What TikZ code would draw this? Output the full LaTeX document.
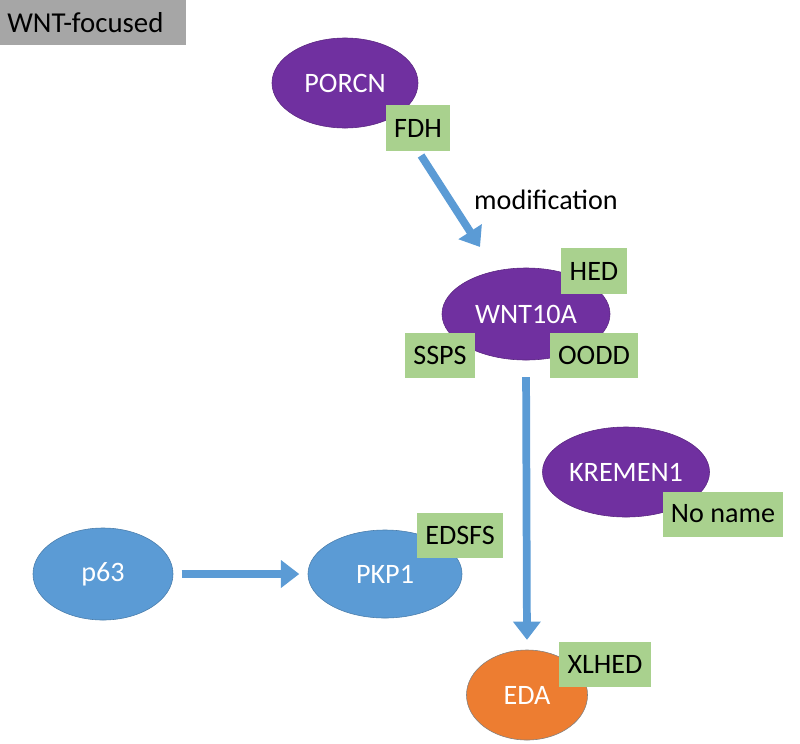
\documentclass[tikz,border=0pt]{standalone}
\usepackage{fontspec}
\setmainfont{Carlito}
\usetikzlibrary{shapes.geometric, arrows.meta}
\definecolor{genepurple}{HTML}{7030A0}
\definecolor{geneblue}{HTML}{5B9BD5}
\definecolor{geneorange}{HTML}{ED7D31}
\definecolor{diseasegreen}{HTML}{A9D18E}
\definecolor{tagrey}{HTML}{A6A6A6}

\begin{document}
\begin{tikzpicture}[x=0.025cm, y=-0.025cm,
	gene/.style={ellipse, inner sep=0pt, text=white, font=\fontsize{20}{22}\selectfont},
	wnt/.style={gene, fill=genepurple, draw=genepurple!80!black, thin},
	sig/.style={gene, fill=geneblue, draw=geneblue!80!black, thin},
	ecto/.style={gene, fill=geneorange, draw=black!50, thin},
	disease/.style={rectangle, fill=diseasegreen, inner xsep=6pt, minimum height=1.125cm, font=\fontsize{20}{22}\selectfont},
	flow/.style={draw=geneblue, line width=5.5pt, -{Triangle[width=19pt, length=13pt]}}]
	\useasboundingbox (0,0) rectangle (800,743);
	% header
	\node[fill=tagrey, anchor=north west, minimum width=4.575cm, minimum height=1.125cm, inner xsep=5pt, align=left, text width=4.3cm, font=\fontsize{20.5}{22}\selectfont] (title) at (0,0) {WNT-focused};
	% genes
	\node[wnt, minimum width=3.65cm, minimum height=2.25cm] (porcn) at (345,83) {PORCN};
	\node[wnt, minimum width=4.2cm, minimum height=2.3cm] (wnt10a) at (526,314) {WNT10A};
	\node[wnt, minimum width=4.175cm, minimum height=2.25cm] (kremen) at (626,472) {KREMEN1};
	\node[sig, minimum width=3.5cm, minimum height=2.3cm] (p63) at (103,574) {p63};
	\node[sig, minimum width=3.85cm, minimum height=2.2cm] (pkp) at (385,574) {PKP1};
	\node[ecto, minimum width=3.025cm, minimum height=2.25cm] (eda) at (527,695) {EDA};
	% diseases
	\node[disease] (fdh) at (418,128) {FDH};
	\node[disease] (hed) at (594,271) {HED};
	\node[disease] (ssps) at (440,355) {SSPS};
	\node[disease] (oodd) at (594,355) {OODD};
	\node[disease] (noname) at (723,514) {No name};
	\node[disease] (edsfs) at (460,535) {EDSFS};
	\node[disease] (xlhed) at (605,664) {XLHED};
	% links
	\coordinate (modtip) at (480,247);
	\draw[flow, shorten <=4pt] (fdh.south) -- (modtip);
	\node[font=\fontsize{20}{22}\selectfont] (modlabel) at (546,200) {modification};
	\draw[flow, shorten <=12pt, shorten >=7pt] (wnt10a.south) -- (eda.north);
	\draw[flow, shorten <=6pt, shorten >=6pt] (p63.east) -- (pkp.west);
\end{tikzpicture}
\end{document}
